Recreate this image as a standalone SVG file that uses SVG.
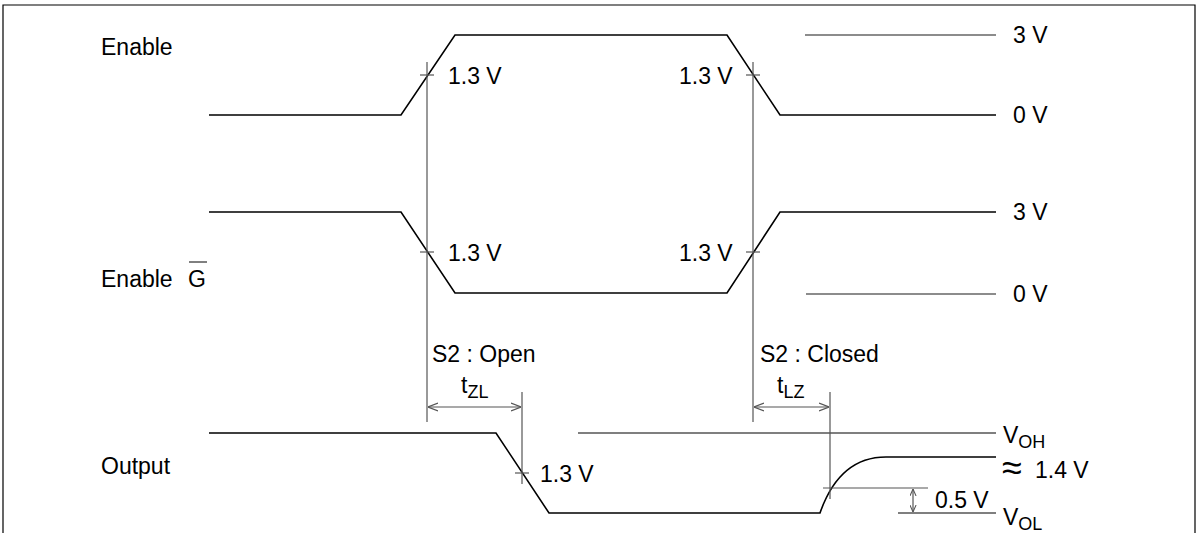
<svg xmlns="http://www.w3.org/2000/svg" width="1198" height="533" viewBox="0 0 1198 533">
<defs>
<style>
.t{font-family:"Liberation Sans",Arial,sans-serif;font-size:23px;fill:#000}
.s{font-size:18px}
.w{fill:none;stroke:#000;stroke-width:1.6}
.r{fill:none;stroke:#666;stroke-width:1.4}
.g{fill:none;stroke:#555;stroke-width:1.2}
.f{fill:none;stroke:#000;stroke-width:1.2}
</style>
<marker id="ah" viewBox="0 0 10 10" refX="10" refY="5" markerWidth="10" markerHeight="10" markerUnits="userSpaceOnUse" orient="auto-start-reverse">
<path d="M0,1 L10,5 L0,9" fill="none" stroke="#555" stroke-width="1.2"/>
</marker>
<marker id="ah2" viewBox="0 0 8 8" refX="8" refY="4" markerWidth="7" markerHeight="7" markerUnits="userSpaceOnUse" orient="auto-start-reverse">
<path d="M0,0.5 L8,4 L0,7.5" fill="none" stroke="#555" stroke-width="1.2"/>
</marker>
</defs>
<rect width="1198" height="533" fill="#fff"/>
<path class="f" d="M3,533 V5 H1195 V533"/>
<g id="enable">
<text class="t" x="101" y="55">Enable</text>
<path class="w" d="M209,115 H401 L455,35 H727 L780,115 H996"/>
<line class="r" x1="805" y1="35" x2="996" y2="35"/>
<text class="t" x="1013" y="43">3 V</text>
<text class="t" x="1013" y="123">0 V</text>
<text class="t" x="448" y="84">1.3 V</text>
<text class="t" x="679" y="84">1.3 V</text>
</g>
<g id="enable-g">
<text class="t" x="101" y="287">Enable</text>
<text class="t" x="188" y="287">G</text>
<line x1="189" y1="262" x2="207" y2="262" stroke="#000" stroke-width="1"/>
<path class="w" d="M209,212 H401 L455,293 H727 L780,212 H996"/>
<line class="r" x1="806" y1="294" x2="996" y2="294"/>
<text class="t" x="1013" y="220">3 V</text>
<text class="t" x="1013" y="302">0 V</text>
<text class="t" x="448" y="261">1.3 V</text>
<text class="t" x="679" y="261">1.3 V</text>
</g>
<g id="output">
<text class="t" x="101" y="474">Output</text>
<path class="w" d="M209,433 H496 L549,513 H820 C828,490 845,457 886,457 H996"/>
<line class="f" x1="578" y1="433" x2="996" y2="433"/>
<line class="f" x1="898" y1="513" x2="996" y2="513"/>
<line class="g" x1="823" y1="488" x2="928" y2="488"/>
<line class="g" x1="913" y1="489" x2="913" y2="512" marker-start="url(#ah2)" marker-end="url(#ah2)"/>
<text class="t" x="540" y="482">1.3 V</text>
<text class="t" x="935" y="508">0.5 V</text>
<text class="t" x="1003" y="443">V<tspan class="s" dy="5">OH</tspan></text>
<text class="t" x="1002" y="480" style="font-size:36px">≈</text>
<text class="t" x="1035" y="478">1.4 V</text>
<text class="t" x="1003" y="525">V<tspan class="s" dy="5">OL</tspan></text>
</g>
<g id="timing">
<text class="t" x="432" y="362">S2 : Open</text>
<text class="t" x="461" y="393">t<tspan class="s" dy="5">ZL</tspan></text>
<text class="t" x="760" y="362">S2 : Closed</text>
<text class="t" x="777" y="393">t<tspan class="s" dy="5">LZ</tspan></text>
</g>
<g id="connectors">
<line class="g" x1="427" y1="62" x2="427" y2="422"/>
<line class="g" x1="753" y1="62" x2="753" y2="422"/>
<line class="g" x1="420" y1="75" x2="434" y2="75"/>
<line class="g" x1="746" y1="75" x2="760" y2="75"/>
<line class="g" x1="420" y1="252" x2="434" y2="252"/>
<line class="g" x1="746" y1="252" x2="760" y2="252"/>
<line class="g" x1="522" y1="392" x2="522" y2="484"/>
<line class="g" x1="515" y1="473" x2="529" y2="473"/>
<line class="g" x1="830" y1="392" x2="830" y2="499"/>
<line class="g" x1="428" y1="407" x2="521" y2="407" marker-start="url(#ah)" marker-end="url(#ah)"/>
<line class="g" x1="754" y1="407" x2="829" y2="407" marker-start="url(#ah)" marker-end="url(#ah)"/>
</g>
</svg>
